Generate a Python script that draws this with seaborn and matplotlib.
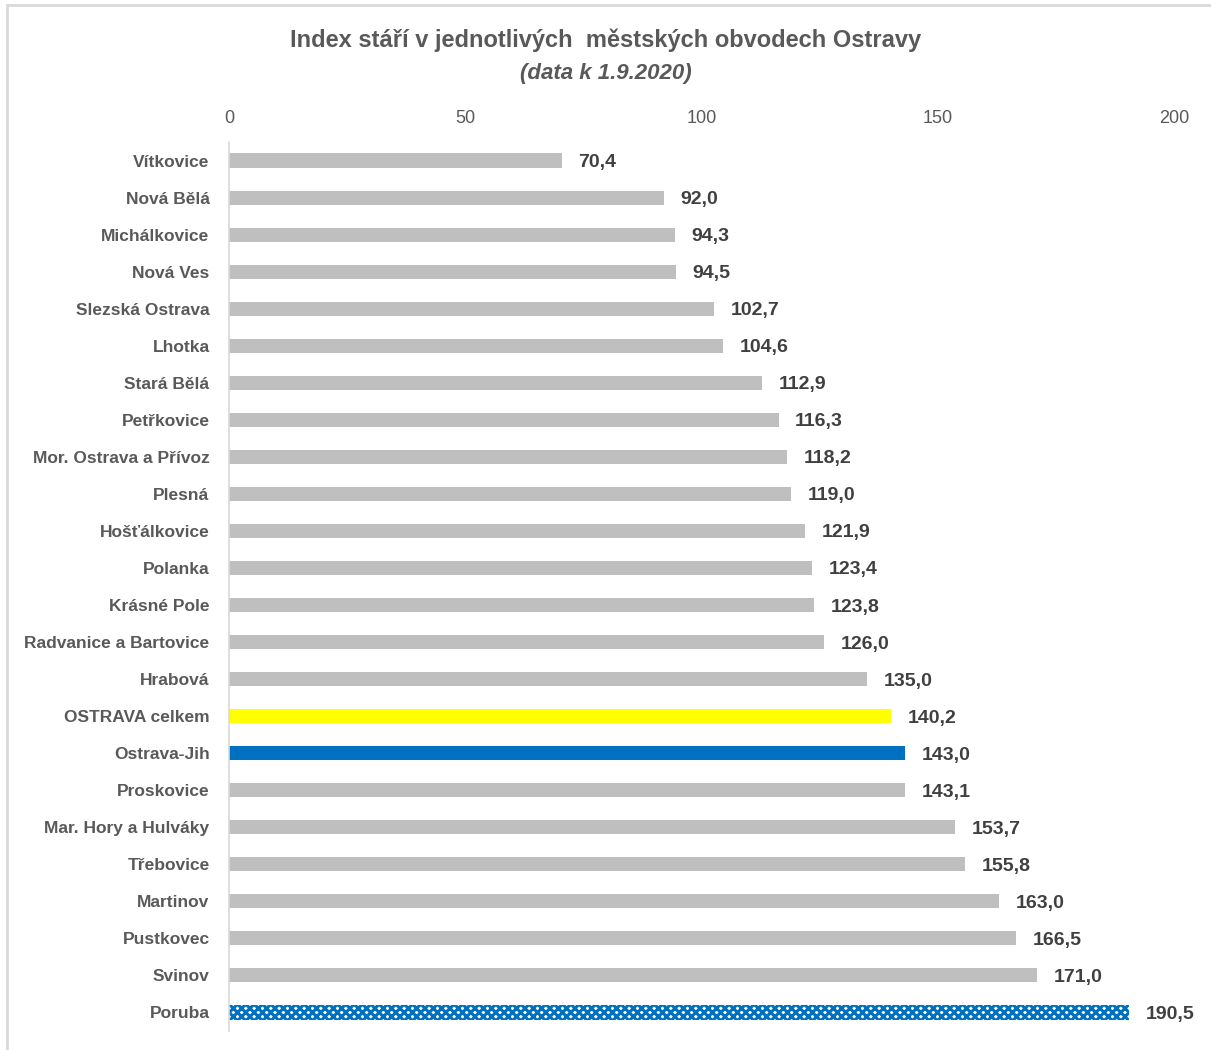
#!/usr/bin/env python3
"""Index stari v jednotlivych mestskych obvodech Ostravy - horizontal bars."""

import matplotlib

matplotlib.use("Agg")

import matplotlib.pyplot as plt
import seaborn as sns
from matplotlib.lines import Line2D

CATEGORIES = [
    "Vítkovice",
    "Nová Bělá",
    "Michálkovice",
    "Nová Ves",
    "Slezská Ostrava",
    "Lhotka",
    "Stará Bělá",
    "Petřkovice",
    "Mor. Ostrava a Přívoz",
    "Plesná",
    "Hošťálkovice",
    "Polanka",
    "Krásné Pole",
    "Radvanice a Bartovice",
    "Hrabová",
    "OSTRAVA celkem",
    "Ostrava-Jih",
    "Proskovice",
    "Mar. Hory a Hulváky",
    "Třebovice",
    "Martinov",
    "Pustkovec",
    "Svinov",
    "Poruba",
]
VALUES = [
    70.4, 92.0, 94.3, 94.5, 102.7, 104.6, 112.9, 116.3, 118.2, 119.0, 121.9,
    123.4, 123.8, 126.0, 135.0, 140.2, 143.0, 143.1, 153.7, 155.8, 163.0,
    166.5, 171.0, 190.5,
]
X_TICKS = [0, 50, 100, 150, 200]
TITLE = "Index stáří v jednotlivých  městských obvodech Ostravy"
SUBTITLE = "(data k 1.9.2020)"

GREY = "#BFBFBF"
YELLOW = "#FFFF00"
BLUE = "#0070C0"
TEXT = "#595959"
FONT = ["Liberation Sans", "DejaVu Sans"]


def bar_colors() -> dict[str, str]:
    colors = {name: GREY for name in CATEGORIES}
    colors["OSTRAVA celkem"] = YELLOW
    colors["Ostrava-Jih"] = BLUE
    colors["Poruba"] = "#FFFFFF"
    return colors


def main() -> None:
    sns.set_theme(style="white")
    plt.rcParams["font.family"] = FONT
    plt.rcParams["hatch.linewidth"] = 2.2

    fig = plt.figure(figsize=(12.11, 10.5), dpi=100)
    ax = fig.add_axes([229 / 1211, 1 - 1031 / 1050, (1174 - 229) / 1211, (1031 - 142) / 1050])

    sns.barplot(
        x=VALUES,
        y=CATEGORIES,
        hue=CATEGORIES,
        palette=bar_colors(),
        saturation=1,
        legend=False,
        orient="h",
        width=0.38,
        linewidth=0,
        ax=ax,
    )

    poruba = ax.patches[CATEGORIES.index("Poruba")]
    poruba.set_facecolor("#FFFFFF")
    poruba.set_edgecolor(BLUE)
    poruba.set_hatch("xxxx")
    poruba.set_linewidth(0)

    labels = [f"{v:.1f}".replace(".", ",") for v in VALUES]
    for container in ax.containers:
        bar_labels = []
        for bar in container:
            pos = round(bar.get_y() + bar.get_height() / 2)
            bar_labels.append(labels[pos])
        texts = ax.bar_label(
            container,
            labels=bar_labels,
            padding=12,
            fontsize=14,
            fontweight="bold",
            color="#404040",
        )
        for text in texts:
            text.set_verticalalignment("center_baseline")

    ax.set_xlim(0, 200)
    ax.set_xticks(X_TICKS)
    ax.xaxis.tick_top()
    ax.tick_params(axis="x", length=0, pad=11, labelsize=13, labelcolor=TEXT)
    ax.tick_params(axis="y", length=0, pad=14, labelsize=12.5, labelcolor=TEXT)
    for label in ax.get_yticklabels():
        label.set_fontweight("bold")
    ax.set_xlabel("")
    ax.set_ylabel("")

    for side in ["top", "right", "bottom"]:
        ax.spines[side].set_visible(False)
    ax.spines["left"].set_color("#D9D9D9")
    ax.spines["left"].set_linewidth(1.2)

    fig.text(0.5, 1 - 40 / 1050, TITLE, ha="center", va="center",
             fontsize=17, fontweight="bold", color=TEXT)
    fig.text(0.5, 1 - 73 / 1050, SUBTITLE, ha="center", va="center",
             fontsize=16, fontweight="bold", style="italic", color=TEXT)

    # chart frame (top and left edges are visible in the reference)
    fig.add_artist(Line2D([7 / 1211, 1], [1 - 5 / 1050] * 2, color="#D9D9D9", lw=2))
    fig.add_artist(Line2D([7 / 1211] * 2, [0, 1 - 5 / 1050], color="#D9D9D9", lw=2))

    fig.savefig("out.png", dpi=100)
    plt.close(fig)


if __name__ == "__main__":
    main()
